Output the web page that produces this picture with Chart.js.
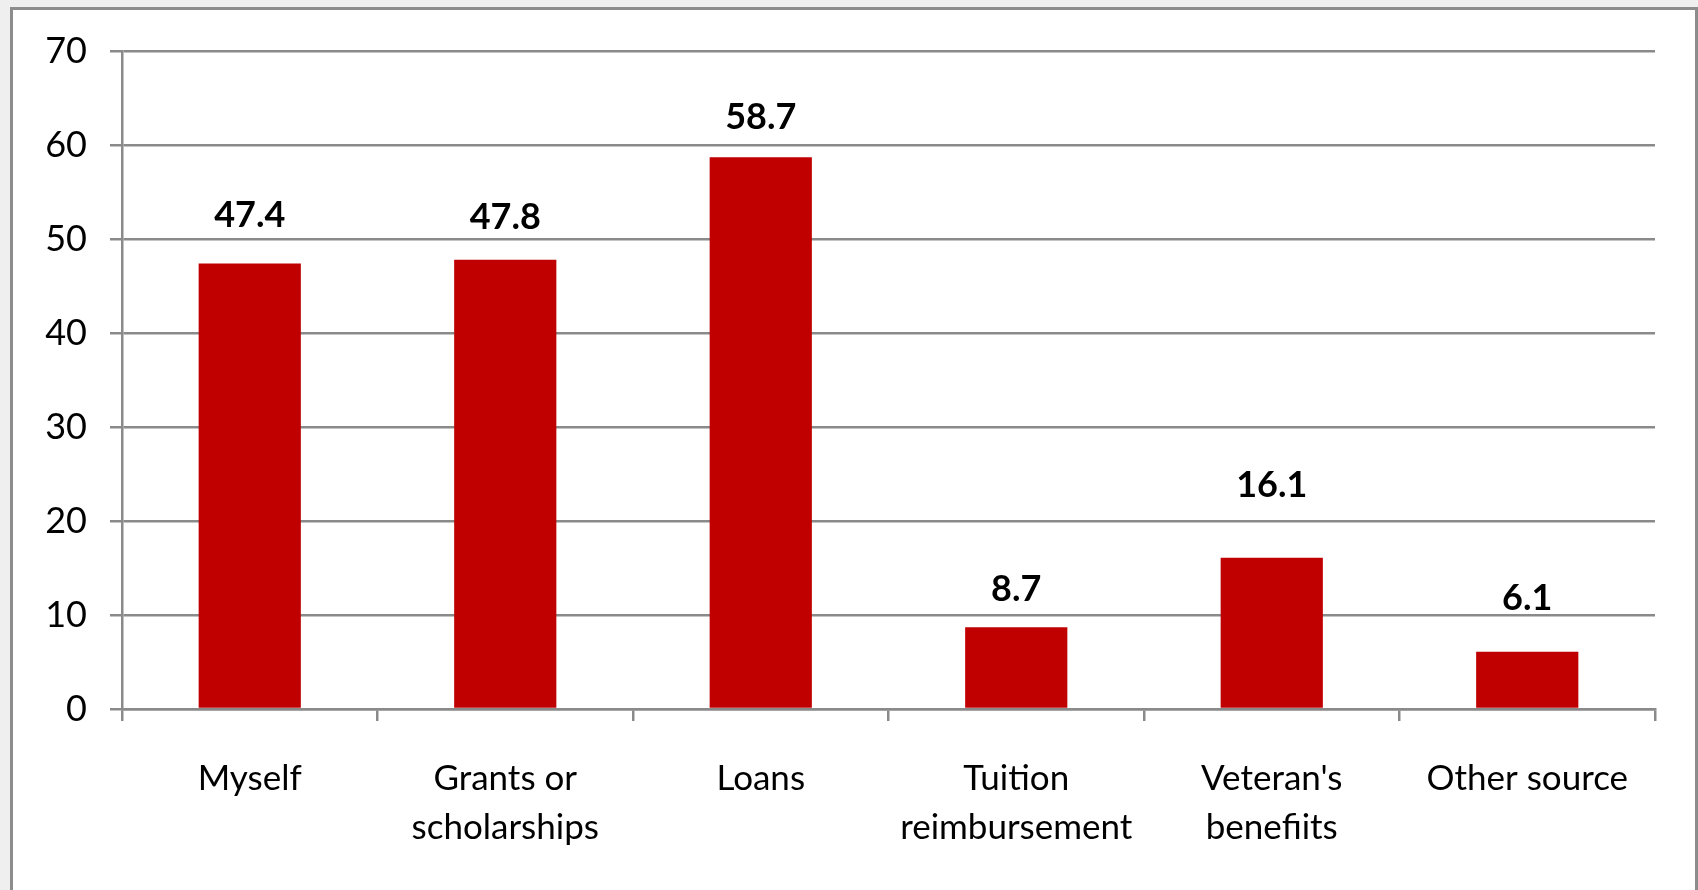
<!DOCTYPE html>
<html>
<head>
<meta charset="utf-8">
<script src="https://cdn.jsdelivr.net/npm/chart.js"></script>
<style>
    html, body { margin: 0; padding: 0; }
    body { width: 1698px; height: 890px; overflow: hidden; position: relative;
           background: #efefef; }
    .frame { position: absolute; left: 10px; top: 7px; width: 1682px; height: 900px;
             border: 3px solid #8c8c8c; background: #ffffff; }
    #fundingChart { position: absolute; left: 0; top: 0; }
</style>
</head>
<body>
<div class="frame"></div>
<canvas id="fundingChart" width="1698" height="890"></canvas>
<script>
    // categories (multi-line where the original wraps)
    const categories = [
        'Myself',
        ['Grants or', 'scholarships'],
        'Loans',
        ['Tuition', 'reimbursement'],
        ["Veteran's", 'benefiits'],
        'Other source'
    ];
    const percentValues = [47.4, 47.8, 58.7, 8.7, 16.1, 6.1];
    const yTicks = [0, 10, 20, 30, 40, 50, 60, 70];

    // how far above each bar top the value label sits (px), as placed in the original
    const labelLift = [48, 42, 40, 38, 72, 53];

    const gridGray = '#8a8a8a';
    const barRed = '#c00000';

    // draws the bold value labels above the bars
    const valueLabels = {
        id: 'valueLabels',
        afterDatasetsDraw(chart) {
            const ctx = chart.ctx;
            const meta = chart.getDatasetMeta(0);
            ctx.save();
            ctx.font = 'bold 36px Lato';
            ctx.fillStyle = '#000000';
            ctx.textAlign = 'center';
            ctx.textBaseline = 'middle';
            meta.data.forEach(function (bar, i) {
                const v = chart.data.datasets[0].data[i];
                ctx.fillText(v.toFixed(1), bar.x, bar.y - labelLift[i]);
            });
            ctx.restore();
        }
    };

    const ctx = document.getElementById('fundingChart').getContext('2d');
    new Chart(ctx, {
        type: 'bar',
        data: {
            labels: categories,
            datasets: [{
                data: percentValues,
                backgroundColor: barRed,
                borderWidth: 0,
                barPercentage: 0.4,
                categoryPercentage: 1.0
            }]
        },
        options: {
            responsive: false,
            animation: false,
            layout: { padding: { left: 0, top: 51, right: 43, bottom: 0 } },
            plugins: {
                legend: { display: false },
                tooltip: { enabled: false },
                title: { display: false }
            },
            scales: {
                x: {
                    afterFit: function (scale) { scale.height = 181; },
                    grid: {
                        offset: true,
                        drawOnChartArea: false,
                        drawTicks: true,
                        tickLength: 12,
                        color: gridGray,
                        lineWidth: 2.5
                    },
                    border: { display: true, color: gridGray, width: 2.5 },
                    ticks: {
                        color: '#000000',
                        font: { family: 'Lato', size: 35, lineHeight: 1.4 },
                        padding: 33,
                        maxRotation: 0,
                        autoSkip: false
                    }
                },
                y: {
                    min: 0,
                    max: 70,
                    afterFit: function (scale) { scale.width = 122; },
                    afterBuildTicks: function (scale) {
                        scale.ticks = yTicks.map(function (v) { return { value: v }; });
                    },
                    grid: {
                        color: gridGray,
                        lineWidth: 2.5,
                        drawTicks: true,
                        tickLength: 12
                    },
                    border: { display: true, color: gridGray, width: 2.5 },
                    ticks: {
                        color: '#000000',
                        font: { family: 'Lato', size: 36 },
                        padding: 23
                    }
                }
            }
        },
        plugins: [valueLabels]
    });
</script>
</body>
</html>
